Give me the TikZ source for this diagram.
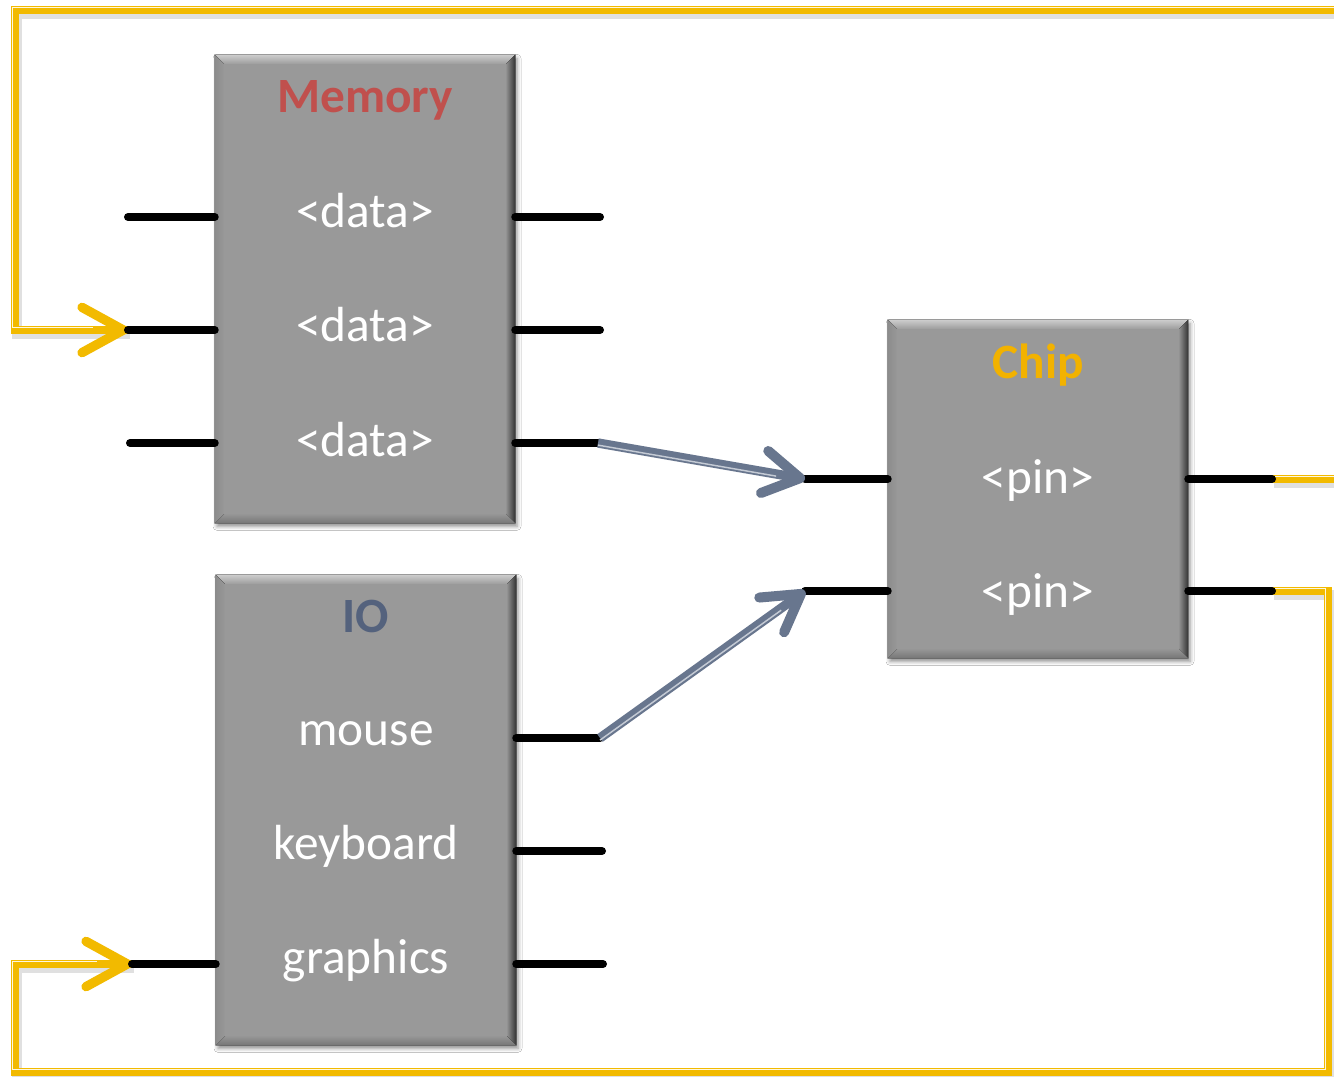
\documentclass[tikz,border=0pt]{standalone}
\usepackage{fontspec}
\setmainfont{Carlito}
\usetikzlibrary{arrows.meta,calc,shadows.blur}

\definecolor{boxgray}{RGB}{153,153,153}
\definecolor{bevlight}{RGB}{205,205,205}
\definecolor{bevdark}{RGB}{50,50,50}
\definecolor{bevbottom}{RGB}{118,118,118}
\definecolor{bevleft}{RGB}{140,140,140}
\definecolor{memred}{RGB}{192,80,77}
\definecolor{ioslate}{RGB}{84,98,125}
\definecolor{chipgold}{RGB}{242,178,0}
\definecolor{wire}{RGB}{242,186,0}
\definecolor{slate}{RGB}{104,118,142}
\definecolor{slatelight}{RGB}{196,202,212}

% bevelled rim around a block node, with the flat face on top
\newcommand\bevelrim[1]{%
  \fill[top color=bevlight, bottom color=boxgray]
    (#1.north west) -- (#1.north east) -- ($(#1.north east)+(-10,10)$)
    -- ($(#1.north west)+(10,10)$) -- cycle;
  \fill[left color=boxgray, right color=bevdark]
    (#1.north east) -- (#1.south east) -- ($(#1.south east)+(-10,-10)$)
    -- ($(#1.north east)+(-10,10)$) -- cycle;
  \fill[top color=boxgray, bottom color=bevbottom]
    (#1.south east) -- (#1.south west) -- ($(#1.south west)+(10,-10)$)
    -- ($(#1.south east)+(-10,-10)$) -- cycle;
  \fill[left color=bevleft, right color=boxgray]
    (#1.south west) -- (#1.north west) -- ($(#1.north west)+(10,10)$)
    -- ($(#1.south west)+(10,-10)$) -- cycle;
  \fill[boxgray] ($(#1.north west)+(9,9)$) rectangle ($(#1.south east)+(-9,-9)$);
}

\begin{document}
\begin{tikzpicture}[x=0.75pt, y=-0.75pt,
  block/.style={rectangle, fill=boxgray, inner sep=0pt,
    blur shadow={shadow xshift=1.5pt, shadow yshift=-2.5pt,
      shadow blur radius=3pt, shadow opacity=45}},
  title/.style={font=\bfseries\fontsize{37}{40}\selectfont, anchor=base, inner sep=0pt},
  label/.style={text=white, font=\fontsize{37}{40}\selectfont, anchor=base, inner sep=0pt},
  pin/.style={line width=6pt, line cap=round, black},
  feed/.style={draw=wire, line width=6.5pt},
  feedstripe/.style={draw=white!88!wire, line width=1pt,
    transform canvas={shift={(-1.9pt,1.9pt)}}},
  feedshadow/.style={draw=black, opacity=0.12, line width=7pt,
    transform canvas={shift={(1.5pt,-3pt)}}},
  feedtip/.style={wire, -{Straight Barb[length=31pt, width=34pt, line width=7pt, round]}},
  link/.style={slate, line width=7pt,
    -{Straight Barb[length=27pt, width=32pt, line width=7.5pt, round]}},
  linkstripe/.style={slatelight, line width=1.1pt, shorten >=22pt,
    transform canvas={shift={(0pt,-1.6pt)}}},
]
\useasboundingbox (0,0) rectangle (1334,1077);
\clip (0,0) rectangle (1334,1077);
\fill[white] (0,0) rectangle (1334,1077);

% pin end points
\coordinate (m1l) at (128,217);  \coordinate (m1r) at (600,217);
\coordinate (m2l) at (128,330);  \coordinate (m2r) at (600,330);
\coordinate (m3l) at (130,443);  \coordinate (m3r) at (598,443);
\coordinate (i1r) at (600,738);
\coordinate (i2r) at (602,851);
\coordinate (i3l) at (132,964);  \coordinate (i3r) at (603,964);
\coordinate (c1l) at (805,479);  \coordinate (c1r) at (1272,479);
\coordinate (c2l) at (805,591);  \coordinate (c2r) at (1272,591);

% feedback wire corners
\coordinate (topR) at (1345,10);
\coordinate (topL) at (15,10);
\coordinate (botR) at (1328,1072);
\coordinate (botL) at (15,1072);

% feedback wires
\draw[feedshadow] (c1r) -| (topR) -- (topL) |- (m2l);
\draw[feedshadow] (c2r) -| (botR) -- (botL) |- (i3l);
\draw[feed] (c1r) -| (topR) -- (topL) |- (m2l);
\draw[feed] (c2r) -| (botR) -- (botL) |- (i3l);
\draw[feedstripe] (c1r) -| (topR) -- (topL) |- ($(m2l)+(-32,0)$);
\draw[feedstripe] (c2r) -| (botR) -- (botL) |- ($(i3l)+(-32,0)$);
\draw[feedtip] ($(m2l)+(-2,0)$) -- (m2l);
\draw[feedtip] ($(i3l)+(-2,0)$) -- (i3l);

% blocks
\node[block, minimum width=225pt, minimum height=351pt] (mem) at (365,289) {};
\node[block, minimum width=225pt, minimum height=352.5pt] (io) at (366,810) {};
\node[block, minimum width=225pt, minimum height=253.5pt] (chip) at (1038,489) {};
\bevelrim{mem}
\bevelrim{io}
\bevelrim{chip}

% pins
\foreach \p in {m1l,m2l,m3l} \draw[pin] (\p) -- (\p -| mem.west);
\foreach \p in {m1r,m2r,m3r} \draw[pin] (\p -| mem.east) -- (\p);
\foreach \p in {i1r,i2r,i3r} \draw[pin] (\p -| io.east) -- (\p);
\draw[pin] (i3l) -- (i3l -| io.west);
\foreach \p in {c1l,c2l} \draw[pin] (\p) -- (\p -| chip.west);
\foreach \p in {c1r,c2r} \draw[pin] (\p -| chip.east) -- (\p);

% links into the chip
\draw[link] (m3r) -- (c1l);
\draw[linkstripe] (m3r) -- (c1l);
\draw[link] (i1r) -- (c2l);
\draw[linkstripe] (i1r) -- (c2l);

% labels
\node[title, text=memred] (memtitle) at (365,113) {Memory};
\node[label] (md1) at (365,227) {<data>};
\node[label] (md2) at (365,341) {<data>};
\node[label] (md3) at (365,456) {<data>};

\node[title, text=ioslate] (iotitle) at (366,632) {IO};
\node[label] (mouse) at (366,745) {mouse};
\node[label] (keyboard) at (366,859) {keyboard};
\node[label] (graphics) at (366,973) {graphics};

\node[title, text=chipgold] (chiptitle) at (1038,378) {Chip};
\node[label] (cp1) at (1038,493) {<pin>};
\node[label] (cp2) at (1038,607) {<pin>};
\end{tikzpicture}
\end{document}
